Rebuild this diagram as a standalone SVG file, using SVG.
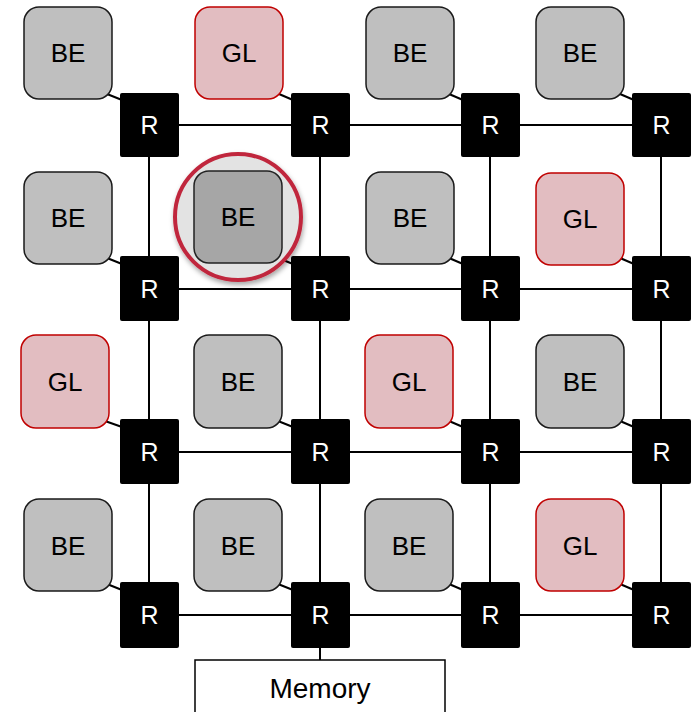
<svg xmlns="http://www.w3.org/2000/svg" width="695" height="712" viewBox="0 0 695 712">
  <defs>
    <style>
      text { font-family: "Liberation Sans", Arial, sans-serif; text-anchor: middle; }
      .link { stroke: #000; stroke-width: 2; fill: none; }
      .tap { stroke: #000; stroke-width: 2; fill: none; }
      .be { fill: #bfbfbf; stroke: #1a1a1a; stroke-width: 1.5; }
      .gl { fill: #e2bdc1; stroke: #c00000; stroke-width: 1.5; }
      .lbl { font-size: 26px; fill: #000; }
      .rt { fill: #000; }
      .rtxt { font-size: 25px; fill: #fff; }
      .mem { fill: #fff; stroke: #000; stroke-width: 1.5; }
    </style>
    <filter id="shadow" x="-30%" y="-30%" width="160%" height="160%">
      <feDropShadow dx="1" dy="3" stdDeviation="2.5" flood-color="#000" flood-opacity="0.35"/>
    </filter>
  </defs>

  <rect width="695" height="712" fill="#fff"/>

  <!-- mesh links between routers, plus the memory tap -->
  <g id="connectors">
    <line class="link" x1="149" y1="125" x2="661" y2="125"/>
    <line class="link" x1="149" y1="289" x2="661" y2="289"/>
    <line class="link" x1="149" y1="452" x2="661" y2="452"/>
    <line class="link" x1="149" y1="615" x2="661" y2="615"/>
    <line class="link" x1="149" y1="125" x2="149" y2="615"/>
    <line class="link" x1="320" y1="125" x2="320" y2="662"/>
    <line class="link" x1="490" y1="125" x2="490" y2="615"/>
    <line class="link" x1="661" y1="125" x2="661" y2="615"/>
    <!-- core-to-router taps -->
    <line class="tap" x1="107" y1="94" x2="122" y2="100"/>
    <line class="tap" x1="279" y1="94" x2="293" y2="100"/>
    <line class="tap" x1="449" y1="94" x2="463" y2="100"/>
    <line class="tap" x1="620" y1="94" x2="634" y2="100"/>
    <line class="tap" x1="107" y1="258" x2="122" y2="264"/>
    <line class="tap" x1="278" y1="258" x2="293" y2="264"/>
    <line class="tap" x1="449" y1="258" x2="463" y2="264"/>
    <line class="tap" x1="620" y1="258" x2="634" y2="264"/>
    <line class="tap" x1="105" y1="421" x2="122" y2="427"/>
    <line class="tap" x1="278" y1="421" x2="293" y2="427"/>
    <line class="tap" x1="449" y1="421" x2="463" y2="427"/>
    <line class="tap" x1="620" y1="421" x2="634" y2="427"/>
    <line class="tap" x1="107" y1="584" x2="122" y2="590"/>
    <line class="tap" x1="278" y1="584" x2="293" y2="590"/>
    <line class="tap" x1="449" y1="584" x2="463" y2="590"/>
    <line class="tap" x1="620" y1="584" x2="634" y2="590"/>
  </g>

  <!-- row 1 cores -->
  <g id="core-1-1"><rect class="be" x="24" y="7" width="88" height="92" rx="15"/><text class="lbl" x="68" y="62">BE</text></g>
  <g id="core-1-2"><rect class="gl" x="195" y="7" width="88" height="92" rx="15"/><text class="lbl" x="239" y="62">GL</text></g>
  <g id="core-1-3"><rect class="be" x="366" y="7" width="88" height="92" rx="15"/><text class="lbl" x="410" y="62">BE</text></g>
  <g id="core-1-4"><rect class="be" x="536" y="7" width="88" height="92" rx="15"/><text class="lbl" x="580" y="62">BE</text></g>

  <!-- row 2 cores -->
  <g id="core-2-1"><rect class="be" x="24" y="172" width="88" height="92" rx="15"/><text class="lbl" x="68" y="227">BE</text></g>
  <g id="core-2-2">
    <circle cx="238" cy="217" r="63" fill="#e3e3e3" stroke="#c0283c" stroke-width="4" filter="url(#shadow)"/>
    <rect x="194" y="171" width="88" height="92" rx="15" fill="#a6a6a6" stroke="#222" stroke-width="1.5"/>
    <text class="lbl" x="238" y="226" fill="#222">BE</text>
  </g>
  <g id="core-2-3"><rect class="be" x="366" y="172" width="88" height="92" rx="15"/><text class="lbl" x="410" y="227">BE</text></g>
  <g id="core-2-4"><rect class="gl" x="536" y="173" width="88" height="92" rx="15"/><text class="lbl" x="580" y="228">GL</text></g>

  <!-- row 3 cores -->
  <g id="core-3-1"><rect class="gl" x="21" y="335" width="88" height="93" rx="15"/><text class="lbl" x="65" y="391">GL</text></g>
  <g id="core-3-2"><rect class="be" x="194" y="335" width="88" height="93" rx="15"/><text class="lbl" x="238" y="391">BE</text></g>
  <g id="core-3-3"><rect class="gl" x="365" y="335" width="88" height="93" rx="15"/><text class="lbl" x="409" y="391">GL</text></g>
  <g id="core-3-4"><rect class="be" x="536" y="335" width="88" height="93" rx="15"/><text class="lbl" x="580" y="391">BE</text></g>

  <!-- row 4 cores -->
  <g id="core-4-1"><rect class="be" x="24" y="499" width="88" height="92" rx="15"/><text class="lbl" x="68" y="555">BE</text></g>
  <g id="core-4-2"><rect class="be" x="194" y="499" width="88" height="92" rx="15"/><text class="lbl" x="238" y="555">BE</text></g>
  <g id="core-4-3"><rect class="be" x="365" y="499" width="88" height="92" rx="15"/><text class="lbl" x="409" y="555">BE</text></g>
  <g id="core-4-4"><rect class="gl" x="536" y="499" width="88" height="92" rx="15"/><text class="lbl" x="580" y="555">GL</text></g>

  <!-- routers -->
  <g id="router-1-1"><rect class="rt" x="120" y="93" width="59" height="64" rx="2"/><text class="rtxt" x="149.5" y="134">R</text></g>
  <g id="router-1-2"><rect class="rt" x="291" y="93" width="59" height="64" rx="2"/><text class="rtxt" x="320.5" y="134">R</text></g>
  <g id="router-1-3"><rect class="rt" x="461" y="93" width="59" height="64" rx="2"/><text class="rtxt" x="490.5" y="134">R</text></g>
  <g id="router-1-4"><rect class="rt" x="632" y="93" width="59" height="64" rx="2"/><text class="rtxt" x="661.5" y="134">R</text></g>

  <g id="router-2-1"><rect class="rt" x="120" y="256" width="59" height="65" rx="2"/><text class="rtxt" x="149.5" y="298">R</text></g>
  <g id="router-2-2"><rect class="rt" x="291" y="256" width="59" height="65" rx="2"/><text class="rtxt" x="320.5" y="298">R</text></g>
  <g id="router-2-3"><rect class="rt" x="461" y="256" width="59" height="65" rx="2"/><text class="rtxt" x="490.5" y="298">R</text></g>
  <g id="router-2-4"><rect class="rt" x="632" y="256" width="59" height="65" rx="2"/><text class="rtxt" x="661.5" y="298">R</text></g>

  <g id="router-3-1"><rect class="rt" x="120" y="419" width="59" height="65" rx="2"/><text class="rtxt" x="149.5" y="461">R</text></g>
  <g id="router-3-2"><rect class="rt" x="291" y="419" width="59" height="65" rx="2"/><text class="rtxt" x="320.5" y="461">R</text></g>
  <g id="router-3-3"><rect class="rt" x="461" y="419" width="59" height="65" rx="2"/><text class="rtxt" x="490.5" y="461">R</text></g>
  <g id="router-3-4"><rect class="rt" x="632" y="419" width="59" height="65" rx="2"/><text class="rtxt" x="661.5" y="461">R</text></g>

  <g id="router-4-1"><rect class="rt" x="120" y="582" width="59" height="66" rx="2"/><text class="rtxt" x="149.5" y="624">R</text></g>
  <g id="router-4-2"><rect class="rt" x="291" y="582" width="59" height="66" rx="2"/><text class="rtxt" x="320.5" y="624">R</text></g>
  <g id="router-4-3"><rect class="rt" x="461" y="582" width="59" height="66" rx="2"/><text class="rtxt" x="490.5" y="624">R</text></g>
  <g id="router-4-4"><rect class="rt" x="632" y="582" width="59" height="66" rx="2"/><text class="rtxt" x="661.5" y="624">R</text></g>

  <!-- off-chip memory -->
  <g id="memory">
    <rect class="mem" x="195" y="660" width="250" height="70"/>
    <text class="lbl" x="320" y="698" style="font-size:28px">Memory</text>
  </g>
</svg>
